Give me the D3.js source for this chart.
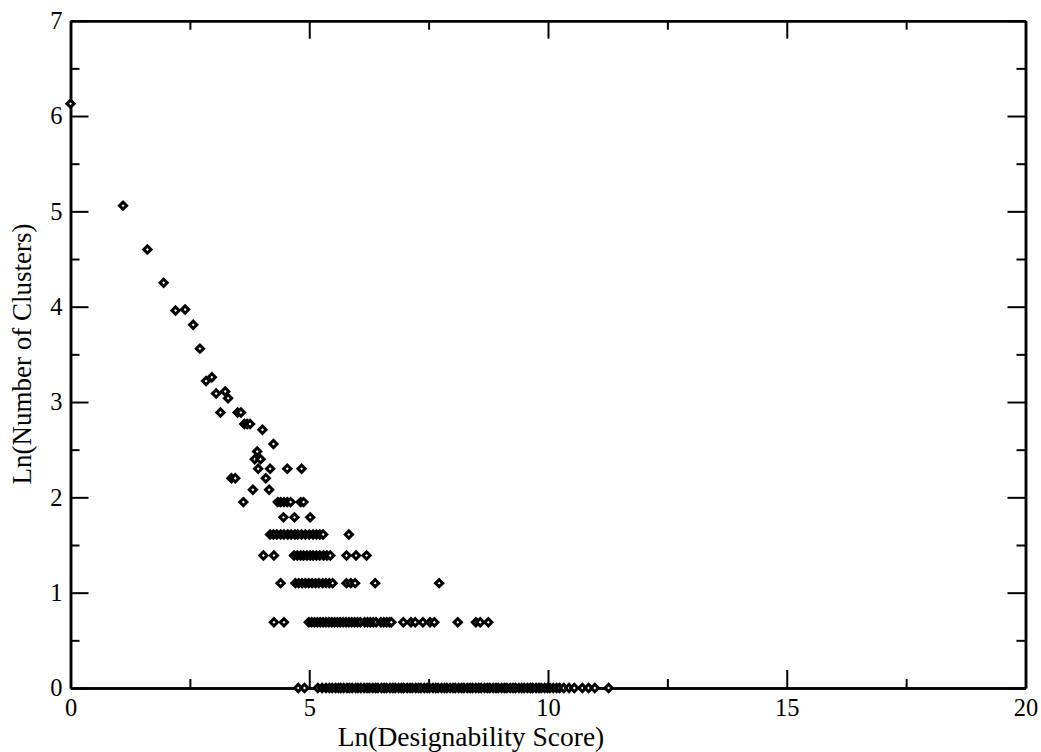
<!DOCTYPE html>
<html>
<head>
<meta charset="utf-8">
<script src="https://cdn.jsdelivr.net/npm/d3@7"></script>
<style>
  body { margin: 0; background: #fff; }
  svg text { font-family: "Liberation Serif", "Times New Roman", serif !important; fill: #000; }
</style>
</head>
<body>
<svg id="chart" width="1041" height="752"></svg>
<script>
// ticks
const xMajorTicks = [0, 5, 10, 15, 20];
const xMinorTicks = [2.5, 7.5, 12.5, 17.5];
const yMajorTicks = [0, 1, 2, 3, 4, 5, 6, 7];
const yMinorTicks = [0.5, 1.5, 2.5, 3.5, 4.5, 5.5, 6.5];

// rows of points that share a cluster count (y = ln count), x = ln(score)
const xsAt0 = [4.77, 4.90, 5.18, 5.27, 5.35, 5.42, 5.48, 5.55, 5.61, 5.66, 5.72, 5.79, 5.84, 5.90,
  5.97, 6.02, 6.08, 6.15, 6.21, 6.26, 6.33, 6.39, 6.44, 6.51, 6.57, 6.62, 6.69, 6.75, 6.80, 6.87,
  6.93, 6.98, 7.05, 7.11, 7.16, 7.23, 7.29, 7.34, 7.41, 7.47, 7.52, 7.59, 7.65, 7.70, 7.77, 7.83,
  7.88, 7.95, 8.01, 8.06, 8.13, 8.19, 8.24, 8.31, 8.37, 8.42, 8.49, 8.55, 8.60, 8.67, 8.73, 8.78,
  8.85, 8.91, 8.96, 9.03, 9.09, 9.14, 9.21, 9.27, 9.32, 9.39, 9.45, 9.50, 9.57, 9.63, 9.68, 9.75,
  9.81, 9.86, 9.93, 9.99, 10.04, 10.11, 10.18, 10.24, 10.33, 10.44, 10.55, 10.72, 10.85, 10.98, 11.27];
const xsAt069 = [4.26, 4.47, 4.99, 5.05, 5.11, 5.17, 5.23, 5.29, 5.35, 5.41, 5.47, 5.53, 5.59, 5.65,
  5.71, 5.77, 5.83, 5.89, 5.95, 6.01, 6.07, 6.16, 6.22, 6.28, 6.34, 6.40, 6.50, 6.56, 6.62, 6.68,
  6.72, 6.97, 7.13, 7.22, 7.38, 7.53, 7.62, 8.11, 8.49, 8.58, 8.75];
const xsAt110 = [4.40, 4.71, 4.78, 4.85, 4.92, 4.99, 5.06, 5.13, 5.20, 5.28, 5.35, 5.42, 5.49,
  5.78, 5.87, 5.96, 6.38, 7.72];
const xsAt139 = [4.04, 4.26, 4.68, 4.75, 4.82, 4.88, 4.95, 5.02, 5.08, 5.15, 5.22, 5.30, 5.37,
  5.44, 5.78, 5.98, 6.20];
const xsAt161 = [4.18, 4.25, 4.32, 4.40, 4.47, 4.55, 4.62, 4.70, 4.76, 4.84, 4.92, 5.00, 5.08,
  5.15, 5.22, 5.29, 5.83];
const xsAt179 = [4.46, 4.69, 5.02];
const xsAt195 = [3.62, 4.34, 4.40, 4.47, 4.54, 4.61, 4.82, 4.88];
const xsAt208 = [3.82, 4.16];
const xsAt220 = [3.37, 3.45, 4.09];
const xsAt230 = [3.93, 4.18, 4.54, 4.84];
const xsAt240 = [3.86, 3.98];
const rowLevels = [0, 0.69, 1.10, 1.39, 1.61, 1.79, 1.95, 2.08, 2.20, 2.30, 2.40];
const rowXs = [xsAt0, xsAt069, xsAt110, xsAt139, xsAt161, xsAt179, xsAt195, xsAt208, xsAt220, xsAt230, xsAt240];

// the sparse points higher up
const upperPoints = [
  [3.91, 2.48], [4.25, 2.56], [4.02, 2.71], [3.64, 2.77], [3.70, 2.77], [3.76, 2.77],
  [3.14, 2.89], [3.50, 2.89], [3.57, 2.89], [3.30, 3.04], [3.05, 3.09], [3.24, 3.11],
  [2.84, 3.22], [2.96, 3.26], [2.71, 3.56], [2.57, 3.81], [2.20, 3.96], [2.40, 3.97],
  [1.95, 4.25], [1.61, 4.60], [1.10, 5.06], [0.00, 6.13]
];

const points = [];
rowLevels.forEach((lv, i) => rowXs[i].forEach(x => points.push([x, lv])));
upperPoints.forEach(p => points.push(p));

const svg = d3.select("#chart");
svg.append("rect").attr("width", 1041).attr("height", 752).attr("fill", "#fff");

const x = d3.scaleLinear().domain([0, 20]).range([70.5, 1025.5]);
const y = d3.scaleLinear().domain([0, 7]).range([688, 20.7]);

const majorLen = 18, minorLen = 9;

function styleAxis(g) {
  g.attr("font-family", null);
  g.select(".domain").attr("stroke", "#000").attr("stroke-width", 2.5).attr("fill", "none");
  g.selectAll(".tick line").attr("stroke", "#000").attr("stroke-width", 2);
  g.selectAll(".tick text").attr("font-size", 24.5);
}

// minor ticks first
[["axisBottom", 688], ["axisTop", 20.7]].forEach(([fn, pos]) => {
  svg.append("g").attr("transform", `translate(0,${pos})`)
    .call(d3[fn](x).tickValues(xMinorTicks).tickSizeInner(-minorLen).tickSizeOuter(0).tickFormat(""))
    .call(styleAxis);
});
[["axisLeft", 70.5], ["axisRight", 1025.5]].forEach(([fn, pos]) => {
  svg.append("g").attr("transform", `translate(${pos},0)`)
    .call(d3[fn](y).tickValues(yMinorTicks).tickSizeInner(-minorLen).tickSizeOuter(0).tickFormat(""))
    .call(styleAxis);
});

// major ticks + labels
svg.append("g").attr("transform", "translate(0,688)")
  .call(d3.axisBottom(x).tickValues(xMajorTicks).tickSizeInner(-majorLen).tickSizeOuter(0).tickPadding(11).tickFormat(d3.format("d")))
  .call(styleAxis);
svg.append("g").attr("transform", "translate(0,20.7)")
  .call(d3.axisTop(x).tickValues(xMajorTicks).tickSizeInner(-majorLen).tickSizeOuter(0).tickFormat(""))
  .call(styleAxis);
svg.append("g").attr("transform", "translate(70.5,0)")
  .call(d3.axisLeft(y).tickValues(yMajorTicks).tickSizeInner(-majorLen).tickSizeOuter(0).tickPadding(8).tickFormat(d3.format("d")))
  .call(styleAxis);
svg.append("g").attr("transform", "translate(1025.5,0)")
  .call(d3.axisRight(y).tickValues(yMajorTicks).tickSizeInner(-majorLen).tickSizeOuter(0).tickFormat(""))
  .call(styleAxis);

// markers: open diamonds
const diamond = d3.symbol().type(d3.symbolSquare).size(26);
svg.append("g").selectAll("path")
  .data(points)
  .join("path")
  .attr("d", diamond)
  .attr("transform", d => `translate(${x(d[0])},${y(d[1])}) rotate(45)`)
  .attr("fill", "#fff")
  .attr("stroke", "#000")
  .attr("stroke-width", 3);

// axis titles
svg.append("text")
  .attr("x", 471).attr("y", 746)
  .attr("text-anchor", "middle")
  .attr("font-size", 27.5)
  .text("Ln(Designability Score)");

svg.append("text")
  .attr("transform", "translate(31,354) rotate(-90)")
  .attr("text-anchor", "middle")
  .attr("font-size", 27)
  .text("Ln(Number of Clusters)");
</script>
</body>
</html>
